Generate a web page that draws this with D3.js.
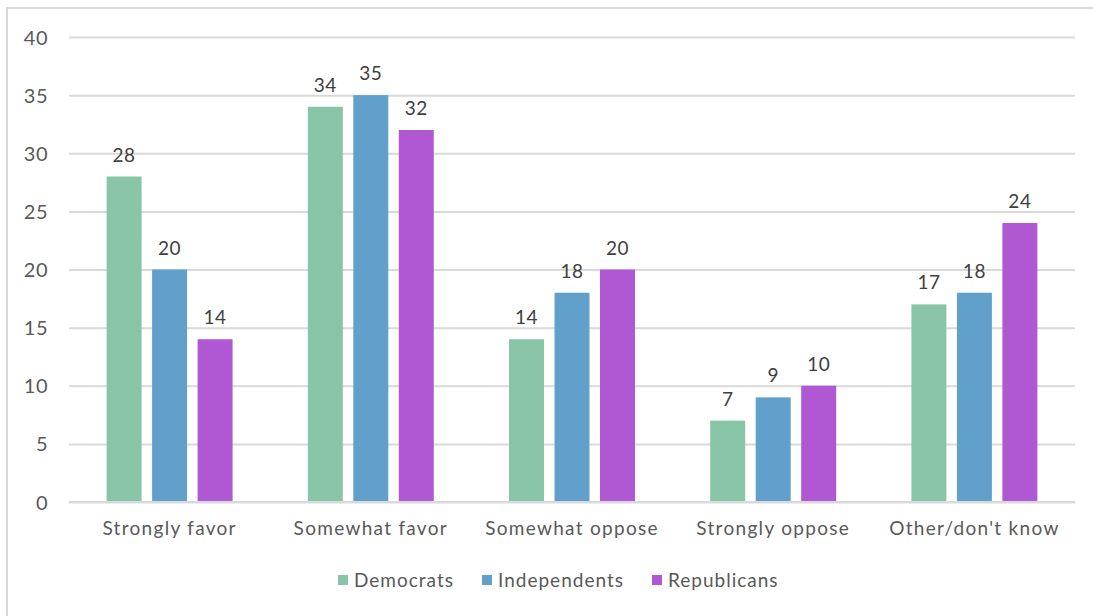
<!DOCTYPE html>
<html>
<head>
<meta charset="utf-8">
<script src="https://cdn.jsdelivr.net/npm/d3@7"></script>
<style>
  html, body { margin: 0; padding: 0; background: #fff; }
  svg text { font-family: "Lato", "Noto Sans", sans-serif; }
</style>
</head>
<body>
<svg id="chart" width="1093" height="616"></svg>
<script>
// Survey responses by party (percent)
const categories = ["Strongly favor", "Somewhat favor", "Somewhat oppose", "Strongly oppose", "Other/don't know"];
const series = ["Democrats", "Independents", "Republicans"];
const democrats = [28, 34, 14, 7, 17];
const independents = [20, 35, 18, 9, 18];
const republicans = [14, 32, 20, 10, 24];
const yTicks = [0, 5, 10, 15, 20, 25, 30, 35, 40];
const colors = ["#88c5a6", "#62a0cc", "#b058d4"];

const values = [democrats, independents, republicans];
const rows = categories.map((c, i) => ({
  category: c,
  bars: series.map((s, j) => ({ series: s, value: values[j][i], color: colors[j] }))
}));

const svg = d3.select("#chart");
const margin = { left: 69, right: 1075, top: 37, bottom: 502 };

// Outer frame
svg.append("rect")
  .attr("x", 7).attr("y", 8).attr("width", 1100).attr("height", 620)
  .attr("fill", "none").attr("stroke", "#d9d9d9").attr("stroke-width", 2);

const y = d3.scaleLinear().domain([0, 40]).range([margin.bottom, margin.top]);
const x0 = d3.scaleBand().domain(categories).range([margin.left, margin.right])
  .paddingInner(0.374).paddingOuter(0.187);
const x1 = d3.scaleBand().domain(series).range([0, x0.bandwidth()]).paddingInner(0.231);

// Gridlines and y-axis labels
const yAxis = d3.axisLeft(y).tickValues(yTicks).tickSize(-(margin.right - margin.left)).tickPadding(21);
const gy = svg.append("g").attr("transform", `translate(${margin.left},0)`).call(yAxis);
gy.select(".domain").remove();
gy.selectAll(".tick line").attr("stroke", "#d9d9d9").attr("stroke-width", 2);
gy.selectAll(".tick text")
  .attr("fill", "#595959").style("font-size", "20px").style("letter-spacing", "0.5px")
  .attr("dy", "0.35em");

// Bars
const groups = svg.append("g").selectAll("g").data(rows).join("g")
  .attr("transform", d => `translate(${x0(d.category)},0)`);

groups.selectAll("rect").data(d => d.bars).join("rect")
  .attr("x", d => x1(d.series))
  .attr("width", x1.bandwidth())
  .attr("y", d => y(d.value))
  .attr("height", d => y(0) - y(d.value))
  .attr("fill", d => d.color);

// Value labels
groups.selectAll("text").data(d => d.bars).join("text")
  .attr("x", d => x1(d.series) + x1.bandwidth() / 2)
  .attr("y", d => y(d.value) - 15)
  .attr("text-anchor", "middle")
  .attr("fill", "#404040")
  .style("font-size", "19px").style("letter-spacing", "0.5px")
  .text(d => d.value);

// Baseline redrawn over bars
svg.append("line")
  .attr("x1", margin.left).attr("x2", margin.right)
  .attr("y1", y(0)).attr("y2", y(0))
  .attr("stroke", "#d9d9d9").attr("stroke-width", 2);

// Category labels
const xAxis = d3.axisBottom(x0).tickSize(0).tickPadding(20);
const gx = svg.append("g").attr("transform", `translate(0,${margin.bottom})`).call(xAxis);
gx.select(".domain").remove();
gx.selectAll(".tick text")
  .attr("fill", "#595959").style("font-size", "19px").style("letter-spacing", "1.3px");

// Legend
const legendX = [338, 482, 652];
const legend = svg.append("g").selectAll("g").data(series).join("g")
  .attr("transform", (d, i) => `translate(${legendX[i]},580)`);
legend.append("rect")
  .attr("x", 0).attr("y", -5).attr("width", 10).attr("height", 10)
  .attr("fill", (d, i) => colors[i]);
legend.append("text")
  .attr("x", 16).attr("dy", "0.35em")
  .attr("fill", "#595959").style("font-size", "19px").style("letter-spacing", "1px")
  .text(d => d);
</script>
</body>
</html>
